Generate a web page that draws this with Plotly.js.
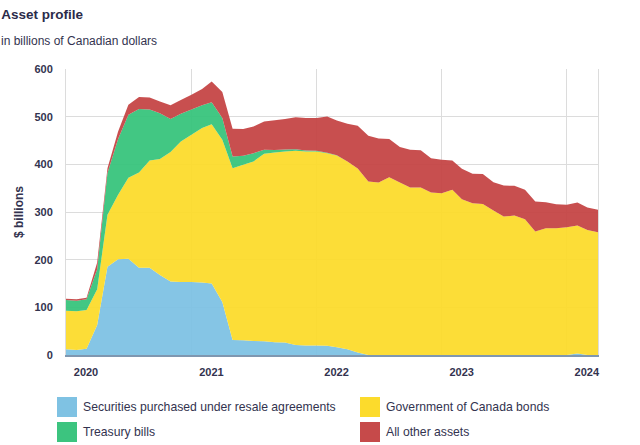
<!DOCTYPE html>
<html><head><meta charset="utf-8">
<script src="https://cdn.plot.ly/plotly-3.0.1.min.js"></script>
<style>html,body{margin:0;padding:0;background:#fff;} #chart{width:640px;height:445px;}</style>
</head><body><div id="chart"></div>
<script>
// Monthly observations, Jan 2020 – Apr 2024
const months = [
 '2020-01-01','2020-02-01','2020-03-01','2020-04-01','2020-05-01','2020-06-01','2020-07-01','2020-08-01','2020-09-01','2020-10-01','2020-11-01','2020-12-01',
 '2021-01-01','2021-02-01','2021-03-01','2021-04-01','2021-05-01','2021-06-01','2021-07-01','2021-08-01','2021-09-01','2021-10-01','2021-11-01','2021-12-01',
 '2022-01-01','2022-02-01','2022-03-01','2022-04-01','2022-05-01','2022-06-01','2022-07-01','2022-08-01','2022-09-01','2022-10-01','2022-11-01','2022-12-01',
 '2023-01-01','2023-02-01','2023-03-01','2023-04-01','2023-05-01','2023-06-01','2023-07-01','2023-08-01','2023-09-01','2023-10-01','2023-11-01','2023-12-01',
 '2024-01-01','2024-02-01','2024-03-01','2024-04-01'];

// $ billions
const resaleAgreements = [12,10.5,13,63,185,201,202,183,183,168,154,153,
 153,152,150,111,31.5,31,29.5,29,27,26,21,20,
 20,19.5,16,12,5.5,0,0,0,0,0,0,0,
 0,0,0,0,0,0,0,0,0,0,0,0,
 0,3,0,0];
const canadaBonds = [81,81.5,81.5,75,109,135,170,200,225,243,272,295,
 309,324,334,340.5,360.5,368,376.5,393,398,401,407.5,407,
 407,404,402.5,394,385.5,364,362,373,362,351.5,351.5,341,
 339.5,346.5,327,318.5,317,303,290.5,292.5,285,259,266,266,
 268,268.5,262.5,257.5];
const treasuryBills = [22.5,22,22.5,42,88,117,132,133,107,96,69,58,
 53,48,46,45.5,24.5,19,17.5,8.5,5,4,3,2,
 1.5,1,0.5,0,0,0,0,0,0,0,0,0,
 0,0,0,0,0,0,0,0,0,0,0,0,
 0,0,0,0];
const otherAssets = [2.5,3,3,14,10,16,21,25,25,25,29,29,
 31,34,44,55,58,56,56,59.5,62.5,64,67.5,68,
 68.5,76,73,79,90,96,92,80,74.5,79,78,72,
 70,61.5,63.5,61.5,62.5,59.5,65,62.5,61.5,63,54.5,50.5,
 47,48.5,47,47];

const seriesNames = ['Securities purchased under resale agreements','Government of Canada bonds','Treasury bills','All other assets'];
const yearTicks = ['2020-01-01','2021-01-01','2022-01-01','2023-01-01','2024-01-01'];
const yearLabels = ['2020','2021','2022','2023','2024'];
const valueTicks = [0,100,200,300,400,500,600];

const colors = ['rgba(124,193,227,0.93)','rgba(252,218,40,0.93)','rgba(52,195,122,0.93)','rgba(196,66,66,0.93)'];
const solid = ['#7fc2e3','#fcdb2c','#3cc47f','#c64a4a'];
const seriesValues = [resaleAgreements, canadaBonds, treasuryBills, otherAssets];

const FONT = 'Liberation Sans, Arial, Helvetica, sans-serif';
const TXT = '#33334f';

const traces = seriesValues.map((vals, k) => ({
  type:'scatter', x: months, y: vals, name: seriesNames[k],
  stackgroup:'assets', mode:'none', fillcolor: colors[k],
  hoverinfo:'skip', showlegend:false
}));

// pixel -> paper helpers for legend placement
const W=640,H=445,ML=66,MR=42,MT=69,MB=90;
const pw=W-ML-MR, ph=H-MT-MB;
const px=x=>(x-ML)/pw, py=y=>(H-MB-y)/ph;

const legendPos = [[57,397],[360,397],[57,422],[360,422]];
const shapes = [], annotations = [];
seriesNames.forEach((nm,k)=>{
  const [x0,y0]=legendPos[k];
  shapes.push({type:'rect',xref:'paper',yref:'paper',x0:px(x0),x1:px(x0+20),y0:py(y0),y1:py(y0+20),
    fillcolor:solid[k],line:{width:0}});
  annotations.push({xref:'paper',yref:'paper',x:px(x0+24),y:py(y0+10),xanchor:'left',yanchor:'middle',
    text:nm,showarrow:false,font:{family:FONT,size:12.2,color:TXT}});
});
annotations.push({xref:'paper',yref:'paper',x:px(-1),y:py(41),xanchor:'left',yanchor:'middle',
  text:'in billions of Canadian dollars',showarrow:false,font:{family:FONT,size:12,color:TXT}});

const layout = {
  width:W,height:H,margin:{l:ML,r:MR,t:MT,b:MB},
  paper_bgcolor:'#fff',plot_bgcolor:'#fff',
  title:{text:'<b>Asset profile</b>',x:0.002,xref:'container',xanchor:'left',y:1-14/H,yref:'container',yanchor:'middle',
    font:{family:FONT,size:13.5,color:'#2b2b4a'}},
  xaxis:{type:'date',range:['2020-01-01','2024-04-01'],tickvals:yearTicks,ticktext:yearLabels,
    ticklabelshift:20,ticklabelstandoff:6,ticks:'',showgrid:true,gridcolor:'#dcdcdc',gridwidth:1,
    showline:true,linecolor:'#7f97b0',linewidth:1.5,zeroline:false,layer:'below traces',
    tickfont:{family:FONT,size:11,color:TXT,weight:'bold'},automargin:false,fixedrange:true},
  yaxis:{range:[0,600],tickvals:valueTicks,ticks:'',ticklabelstandoff:10,showgrid:true,gridcolor:'#dcdcdc',gridwidth:1,
    showline:true,mirror:true,linecolor:'#dcdcdc',linewidth:1,zeroline:false,layer:'below traces',
    tickfont:{family:FONT,size:11,color:TXT,weight:'bold'},
    title:{text:'<b>$ billions</b>',standoff:8,font:{family:FONT,size:12,color:TXT}},
    automargin:false,fixedrange:true},
  shapes:shapes, annotations:annotations, showlegend:false
};
Plotly.newPlot('chart',traces,layout,{displayModeBar:false,staticPlot:true});
</script></body></html>
